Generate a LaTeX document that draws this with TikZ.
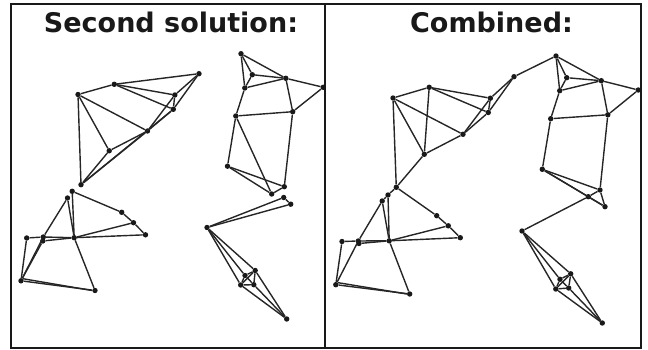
\documentclass[tikz,border=0pt]{standalone}
\usepackage{fontspec}
\newfontfamily\titlefont{DejaVu Sans}
\begin{document}
\begin{tikzpicture}[x=1pt,y=-1pt,
  v/.style={circle,fill=black!90,inner sep=0pt,minimum size=5.4pt},
  ed/.style={draw=black!85,line width=1.4pt},
  frame/.style={draw=black!90,line width=2.2pt},
  ttl/.style={anchor=base,font=\titlefont\bfseries\fontsize{27}{27}\selectfont,text=black!90}]
\useasboundingbox (0,0) rectangle (648,350);
\draw[frame] (11,4) rectangle (640.7,347.7);
\draw[frame] (325.3,4) -- (325.3,347.7);
\node[ttl] (t1) at (171,33) {Second solution:};
\node[ttl] (t2) at (491.5,33) {Combined:};
% ---------- left panel ----------
\foreach \n/\x/\y in {a1/78/94.5,a2/114.3/84.3,a3/199/73.7,a4/174.8/95,a5/173.3/109.3,a6/147.5/131,a7/109.2/150.8,a8/81/184.7,
  b1/241/53.7,b2/252.3/74.7,b3/285.8/78.3,b4/244.8/88,b5/323.3/87.3,b6/235.8/116,b7/292.7/111.7,b8/227.5/166.2,b9/284.3/186.7,b10/271.7/194,
  c1/72.2/191.3,c2/67.5/198,c3/121.7/212.3,c4/133.5/222.7,c5/145.5/234.8,c6/26.7/238,c7/43.3/237,c7b/42.8/241,c8/74.2/237.7,c9/21/280.8,c10/95/290.5,
  d1/283.7/197.5,d2/290.7/204.2,d3/207/227.5,d4/255.2/270.5,d5/245/275.5,d6/240.7/285,d7/253.8/284.7,d8/286.7/319}
  \node[v] (\n) at (\x,\y) {};
\foreach \u/\w in {a1/a2,a2/a3,a2/a4,a2/a5,a3/a4,a3/a5,a4/a5,a1/a6,a1/a7,a1/a8,a7/a6,a6/a4,a6/a5,a8/a7,a8/a6,a8/a5,
  b1/b2,b1/b3,b1/b4,b2/b3,b2/b4,b4/b3,b3/b5,b3/b7,b4/b6,b6/b7,b7/b5,b6/b8,b6/b10,b7/b9,b8/b9,b8/b10,b9/b10,
  c1/c3,c3/c4,c4/c5,c8/c4,c8/c5,c1/c8,c2/c8,c2/c7,c6/c7,c7/c8,c7b/c8,c6/c9,c7/c9,c7b/c9,c9/c10,c8/c10,
  d3/d1,d3/d2,d1/d2,d3/d4,d3/d5,d3/d6,d4/d5,d4/d6,d4/d7,d5/d6,d5/d7,d6/d7,d4/d8,d6/d8,d7/d8}
  \draw[ed] (\u) -- (\w);
\draw[ed] (c9.north east) -- (c10.west);
% ---------- right panel ----------
\foreach \n/\x/\y in {e1/393/98,e2/429.2/87.3,e3/490.4/98.2,e4/488.3/112.5,e5/463/134.3,e6/424.3/154.3,e7/514/76.7,e8/396.3/187.3,
  f1/556/56,f2/566.7/77.7,f3/601.3/80.7,f4/559.7/90.7,f5/638.3/90,f6/550.7/118.7,f7/607.8/114.8,f8/542.3/169.3,f9/600/190,f10/588.3/196.7,f11/605/206.7,
  h2/388/195,h3/382.2/201,h4/436.7/215.7,h5/448.3/225.8,h6/460.3/237.7,h7/342/241.5,h8/358.3/241,h8b/359/243.5,h9/389.2/240.8,h10/335.8/284.7,h11/409.7/294,
  g3/522/231,g4/570.7/273.8,g5/560/279.3,g6/555.8/289,g7/568.7/288,g8/602.3/323}
  \node[v] (\n) at (\x,\y) {};
\foreach \u/\w in {e1/e2,e2/e3,e2/e4,e1/e5,e1/e6,e1/e8,e2/e6,e6/e5,e5/e4,e5/e3,e3/e4,e7/e3,e7/e4,e6/e8,e7/f1,
  f1/f2,f1/f4,f1/f3,f2/f3,f2/f4,f4/f3,f3/f5,f3/f7,f4/f6,f6/f7,f7/f5,f6/f8,f7/f9,f8/f9,f8/f10,f8/f11,f9/f10,f9/f11,f10/f11,f10/g3,
  e8/h2,e8/h4,h4/h5,h5/h6,h2/h3,h2/h9,h3/h9,h3/h8,h8/h10,h7/h8,h8/h9,h8b/h9,h9/h6,h9/h5,h7/h10,h10/h11,h9/h11,
  g3/g4,g3/g5,g3/g6,g4/g5,g4/g6,g4/g7,g5/g6,g5/g7,g6/g7,g4/g8,g6/g8,g7/g8}
  \draw[ed] (\u) -- (\w);
\draw[ed] (h10.north east) -- (h11.west);
\end{tikzpicture}
\end{document}
